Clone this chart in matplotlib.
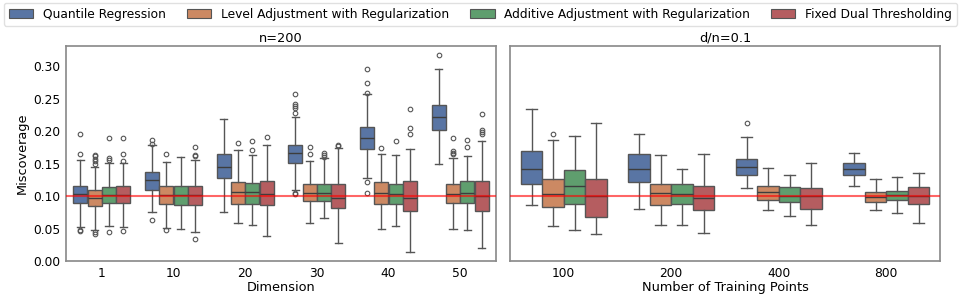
import matplotlib
matplotlib.use("Agg")
import matplotlib.pyplot as plt
from matplotlib.patches import Patch
import seaborn as sns

METHODS = [
    "Quantile Regression",
    "Level Adjustment with Regularization",
    "Additive Adjustment with Regularization",
    "Fixed Dual Thresholding",
]
DIMS = ["1", "10", "20", "30", "40", "50"]
NTRAIN = ["100", "200", "400", "800"]
TARGET = 0.1

# Box statistics for the left panel (n=200); rows follow METHODS, columns follow DIMS
DIM_MED = [
    [0.103, 0.124, 0.144, 0.166, 0.190, 0.221],
    [0.097, 0.101, 0.106, 0.104, 0.105, 0.103],
    [0.102, 0.101, 0.106, 0.104, 0.103, 0.104],
    [0.102, 0.101, 0.103, 0.097, 0.097, 0.100],
]
DIM_Q1 = [
    [0.090, 0.109, 0.128, 0.151, 0.173, 0.201],
    [0.085, 0.088, 0.088, 0.092, 0.088, 0.090],
    [0.089, 0.086, 0.088, 0.092, 0.088, 0.090],
    [0.089, 0.086, 0.086, 0.081, 0.077, 0.077],
]
DIM_Q3 = [
    [0.116, 0.137, 0.165, 0.179, 0.207, 0.240],
    [0.109, 0.115, 0.122, 0.119, 0.122, 0.118],
    [0.114, 0.116, 0.120, 0.118, 0.119, 0.123],
    [0.115, 0.116, 0.123, 0.119, 0.123, 0.123],
]
DIM_LO = [
    [0.053, 0.076, 0.075, 0.110, 0.128, 0.150],
    [0.048, 0.051, 0.058, 0.059, 0.049, 0.050],
    [0.054, 0.049, 0.056, 0.066, 0.054, 0.047],
    [0.053, 0.044, 0.038, 0.028, 0.014, 0.020],
]
DIM_HI = [
    [0.155, 0.178, 0.218, 0.222, 0.257, 0.295],
    [0.145, 0.152, 0.171, 0.154, 0.165, 0.158],
    [0.151, 0.160, 0.163, 0.158, 0.163, 0.162],
    [0.151, 0.156, 0.178, 0.174, 0.172, 0.184],
]
DIM_FLIERS = [
    [[0.195, 0.164, 0.046, 0.047], [0.187, 0.180, 0.063], [],
     [0.257, 0.242, 0.239, 0.236, 0.228, 0.104, 0.103],
     [0.295, 0.274, 0.259, 0.122, 0.104], [0.317]],
    [[0.163, 0.161, 0.157, 0.154, 0.150, 0.045, 0.042], [0.165, 0.047], [0.181],
     [0.176, 0.165], [0.174], [0.190, 0.170, 0.166, 0.164]],
    [[0.189, 0.159, 0.155, 0.045], [], [0.185, 0.171], [0.167, 0.163, 0.160],
     [0.184], [0.187, 0.176]],
    [[0.190, 0.164, 0.154, 0.046], [0.175, 0.163, 0.162, 0.034], [0.191],
     [0.179, 0.177], [0.234, 0.204, 0.196], [0.226, 0.202, 0.198, 0.195]],
]

# Box statistics for the right panel (d/n=0.1); columns follow NTRAIN
NT_MED = [
    [0.142, 0.141, 0.145, 0.142],
    [0.103, 0.105, 0.106, 0.099],
    [0.116, 0.103, 0.100, 0.101],
    [0.100, 0.097, 0.100, 0.100],
]
NT_Q1 = [
    [0.118, 0.121, 0.133, 0.133],
    [0.083, 0.086, 0.094, 0.091],
    [0.088, 0.088, 0.091, 0.094],
    [0.067, 0.079, 0.080, 0.087],
]
NT_Q3 = [
    [0.170, 0.164, 0.157, 0.151],
    [0.127, 0.118, 0.115, 0.106],
    [0.140, 0.118, 0.114, 0.108],
    [0.126, 0.115, 0.113, 0.114],
]
NT_LO = [
    [0.086, 0.080, 0.112, 0.116],
    [0.054, 0.055, 0.078, 0.079],
    [0.047, 0.055, 0.070, 0.074],
    [0.041, 0.043, 0.055, 0.058],
]
NT_HI = [
    [0.234, 0.195, 0.191, 0.166],
    [0.187, 0.163, 0.143, 0.127],
    [0.192, 0.141, 0.132, 0.129],
    [0.213, 0.164, 0.151, 0.135],
]
NT_FLIERS = [
    [[], [], [0.212], []],
    [[0.196], [], [], []],
    [[], [], [], []],
    [[], [], [], []],
]

plt.rcParams["font.family"] = ["DejaVu Sans"]
COLORS = [sns.desaturate(c, 0.75) for c in sns.color_palette("deep", 4)]
LINE = "#555555"
SPINE = "#8c8c8c"
BOX_W = 0.2


def draw_panel(ax, cats, med, q1, q3, lo, hi, fliers):
    for j in range(len(METHODS)):
        stats = []
        for i in range(len(cats)):
            stats.append({
                "med": med[j][i], "q1": q1[j][i], "q3": q3[j][i],
                "whislo": lo[j][i], "whishi": hi[j][i], "fliers": fliers[j][i],
            })
        pos = [i + (j - 1.5) * BOX_W for i in range(len(cats))]
        ax.bxp(
            stats, positions=pos, widths=BOX_W * 0.98, capwidths=BOX_W / 2,
            patch_artist=True, manage_ticks=False,
            boxprops=dict(facecolor=COLORS[j], edgecolor=LINE, linewidth=1.0),
            medianprops=dict(color="#3d3d3d", linewidth=1.0),
            whiskerprops=dict(color=LINE, linewidth=1.0),
            capprops=dict(color=LINE, linewidth=1.0),
            flierprops=dict(marker="o", markerfacecolor="none", markeredgecolor=LINE,
                            markersize=3.3, markeredgewidth=0.8),
        )
    ax.axhline(TARGET, color="red", alpha=0.6, linewidth=1.5, zorder=5)
    ax.set_xlim(-0.5, len(cats) - 0.5)
    ax.set_xticks(range(len(cats)))
    ax.set_xticklabels(cats)
    ax.tick_params(length=0, labelsize=8.8, pad=4)
    for s in ax.spines.values():
        s.set_color(SPINE)
        s.set_linewidth(1.25)


fig = plt.figure(figsize=(9.59, 2.97), dpi=100)
ax1 = fig.add_axes([66 / 959, 36 / 297, 430 / 959, 215 / 297])
ax2 = fig.add_axes([510 / 959, 36 / 297, 430 / 959, 215 / 297], sharey=ax1)

draw_panel(ax1, DIMS, DIM_MED, DIM_Q1, DIM_Q3, DIM_LO, DIM_HI, DIM_FLIERS)
draw_panel(ax2, NTRAIN, NT_MED, NT_Q1, NT_Q3, NT_LO, NT_HI, NT_FLIERS)

ax1.set_ylim(0, 0.331)
ax1.set_yticks([0.0, 0.05, 0.10, 0.15, 0.20, 0.25, 0.30])
ax1.set_yticklabels([f"{v:.2f}" for v in ax1.get_yticks()])
ax2.tick_params(labelleft=False)

ax1.set_title("n=200", fontsize=9.3, pad=3)
ax2.set_title("d/n=0.1", fontsize=9.3, pad=3)
ax1.set_xlabel("Dimension", fontsize=9.3, labelpad=1)
ax2.set_xlabel("Number of Training Points", fontsize=9.3, labelpad=1)
ax1.set_ylabel("Miscoverage", fontsize=9.3, labelpad=3)

handles = [Patch(facecolor=c, edgecolor=LINE, linewidth=0.8) for c in COLORS]
fig.legend(
    handles, METHODS, loc="upper left", ncol=4, mode="expand",
    bbox_to_anchor=(4 / 959, 0, 953 / 959, 1 - 3 / 297), borderaxespad=0,
    fontsize=8.8, frameon=True, edgecolor="#d9d9d9", fancybox=True,
    handlelength=2.0, borderpad=0.4,
)

fig.savefig("out.png", dpi=100)
